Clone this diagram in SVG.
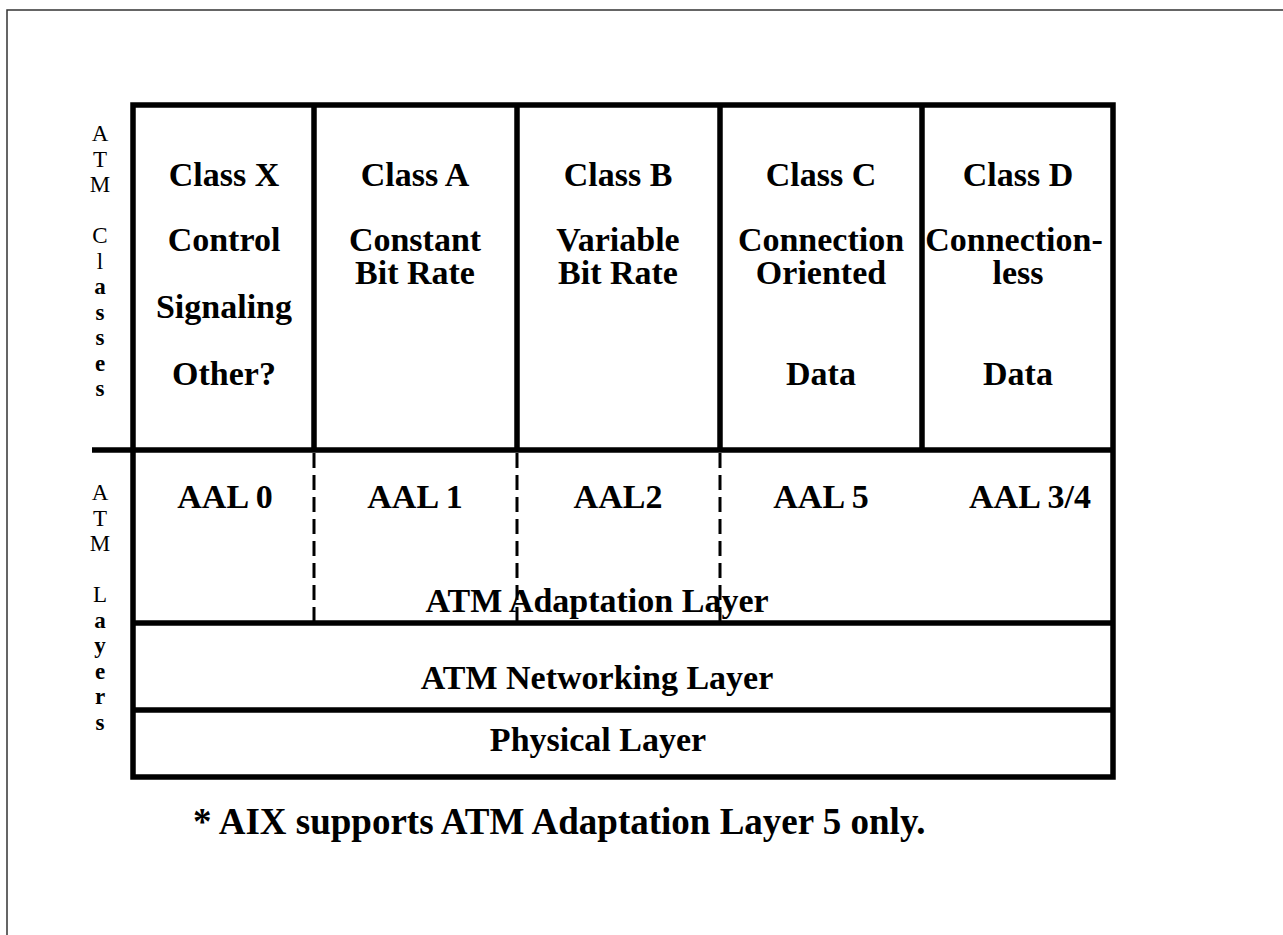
<svg xmlns="http://www.w3.org/2000/svg" width="1283" height="935" viewBox="0 0 1283 935">
<style>
.b{font-family:"Liberation Serif","Times New Roman",serif;font-weight:bold;font-size:34px;fill:#000;text-anchor:middle}
.s{font-family:"Liberation Serif","Times New Roman",serif;font-size:23px;fill:#000;text-anchor:middle}
.sb{font-weight:bold}
.thick{stroke:#000;stroke-width:5.5;fill:none}
.dash{stroke:#000;stroke-width:3;stroke-dasharray:15 7;fill:none}
.frame{stroke:#333;stroke-width:1.5;fill:none}
</style>
<rect width="1283" height="935" fill="#fff"/>
<path class="frame" d="M7,935 V10 H1283"/>
<g id="side-label-classes">
<text class="s" x="100" y="141"><tspan x="100">A</tspan><tspan x="100" dy="25.5">T</tspan><tspan x="100" dy="25.5">M</tspan><tspan x="100" dy="51">C</tspan><tspan x="100" dy="25.5">l</tspan><tspan class="sb" x="100" dy="25.5">a</tspan><tspan class="sb" x="100" dy="25.5">s</tspan><tspan class="sb" x="100" dy="25.5">s</tspan><tspan class="sb" x="100" dy="25.5">e</tspan><tspan class="sb" x="100" dy="25.5">s</tspan></text>
</g>
<g id="side-label-layers">
<text class="s" x="100" y="500"><tspan x="100">A</tspan><tspan x="100" dy="25.5">T</tspan><tspan x="100" dy="25.5">M</tspan><tspan x="100" dy="51">L</tspan><tspan class="sb" x="100" dy="25.5">a</tspan><tspan class="sb" x="100" dy="25.5">y</tspan><tspan class="sb" x="100" dy="25.5">e</tspan><tspan class="sb" x="100" dy="25.5">r</tspan><tspan class="sb" x="100" dy="25.5">s</tspan></text>
</g>
<g id="connectors">
<rect class="thick" x="133" y="105" width="980" height="672"/>
<path class="thick" d="M314,105 V450 M517,105 V450 M720,105 V450 M922,105 V450"/>
<path class="thick" d="M92,450 H1113 M133,623 H1113 M133,710 H1113"/>
<path class="dash" d="M314,453 V623 M517,453 V623 M720,453 V623"/>
</g>
<g id="class-x">
<text class="b" x="224" y="186">Class X</text>
<text class="b" x="224" y="251">Control</text>
<text class="b" x="224" y="318">Signaling</text>
<text class="b" x="224" y="385">Other?</text>
</g>
<g id="class-a">
<text class="b" x="415" y="186">Class A</text>
<text class="b" x="415" y="251">Constant</text>
<text class="b" x="415" y="284">Bit Rate</text>
</g>
<g id="class-b">
<text class="b" x="618" y="186">Class B</text>
<text class="b" x="618" y="251">Variable</text>
<text class="b" x="618" y="284">Bit Rate</text>
</g>
<g id="class-c">
<text class="b" x="821" y="186">Class C</text>
<text class="b" x="821" y="251">Connection</text>
<text class="b" x="821" y="284">Oriented</text>
<text class="b" x="821" y="385">Data</text>
</g>
<g id="class-d">
<text class="b" x="1018" y="186">Class D</text>
<text class="b" x="1014" y="251">Connection-</text>
<text class="b" x="1018" y="284">less</text>
<text class="b" x="1018" y="385">Data</text>
</g>
<g id="aal">
<text class="b" x="225" y="508">AAL 0</text>
<text class="b" x="415" y="508">AAL 1</text>
<text class="b" x="618" y="508">AAL2</text>
<text class="b" x="821" y="508">AAL 5</text>
<text class="b" x="1030" y="508">AAL 3/4</text>
<text class="b" x="597" y="612">ATM Adaptation Layer</text>
</g>
<g id="networking">
<text class="b" x="597" y="689">ATM Networking Layer</text>
</g>
<g id="physical">
<text class="b" x="598" y="751">Physical Layer</text>
</g>
<g id="footnote">
<text class="b" x="193" y="834" style="text-anchor:start;font-size:37px">* AIX supports ATM Adaptation Layer 5 only.</text>
</g>
</svg>
